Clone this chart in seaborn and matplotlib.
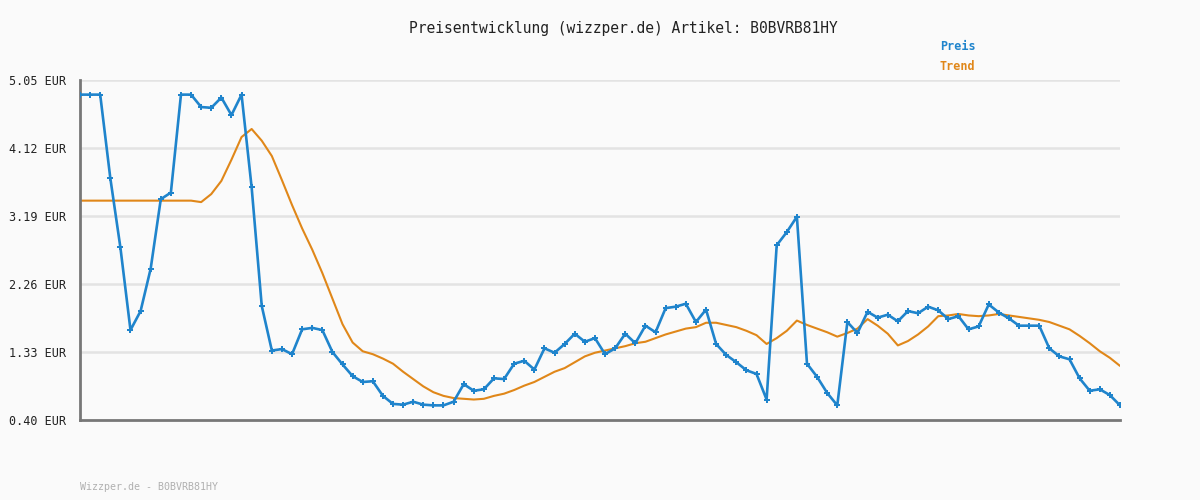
import numpy as np
import pandas as pd
import matplotlib
matplotlib.use("Agg")
import matplotlib.pyplot as plt
import seaborn as sns

# Werte (104 Messpunkte)
preis = [4.85, 4.85, 4.85, 3.71, 2.76, 1.63, 1.89, 2.47, 3.42, 3.51,
         4.85, 4.85, 4.68, 4.67, 4.81, 4.57, 4.85, 3.58, 1.96, 1.35,
         1.37, 1.30, 1.64, 1.66, 1.63, 1.33, 1.16, 1.00, 0.92, 0.93,
         0.73, 0.62, 0.61, 0.65, 0.61, 0.60, 0.60, 0.65, 0.89, 0.80,
         0.82, 0.97, 0.96, 1.17, 1.21, 1.09, 1.38, 1.32, 1.44, 1.58,
         1.47, 1.52, 1.30, 1.38, 1.58, 1.45, 1.69, 1.60, 1.93, 1.95,
         1.99, 1.74, 1.91, 1.44, 1.29, 1.19, 1.08, 1.03, 0.68, 2.79,
         2.97, 3.18, 1.17, 0.99, 0.77, 0.60, 1.74, 1.59, 1.88, 1.80,
         1.84, 1.75, 1.89, 1.86, 1.95, 1.90, 1.78, 1.82, 1.64, 1.68,
         1.98, 1.87, 1.79, 1.69, 1.69, 1.69, 1.38, 1.27, 1.23, 0.97,
         0.80, 0.82, 0.74, 0.60]

trend = [3.40, 3.40, 3.40, 3.40, 3.40, 3.40, 3.40, 3.40, 3.40, 3.40,
         3.40, 3.40, 3.38, 3.49, 3.67, 3.96, 4.27, 4.38, 4.22, 4.01,
         3.68, 3.34, 3.02, 2.73, 2.41, 2.06, 1.71, 1.46, 1.34, 1.30,
         1.24, 1.17, 1.06, 0.96, 0.86, 0.78, 0.73, 0.70, 0.69, 0.68,
         0.69, 0.73, 0.76, 0.81, 0.87, 0.92, 0.99, 1.06, 1.11, 1.19,
         1.27, 1.32, 1.35, 1.38, 1.41, 1.45, 1.47, 1.52, 1.57, 1.61,
         1.65, 1.67, 1.73, 1.73, 1.70, 1.67, 1.62, 1.56, 1.44, 1.52,
         1.62, 1.76, 1.70, 1.65, 1.60, 1.54, 1.59, 1.65, 1.78, 1.69,
         1.58, 1.42, 1.48, 1.57, 1.68, 1.82, 1.83, 1.85, 1.83, 1.82,
         1.83, 1.85, 1.83, 1.81, 1.79, 1.77, 1.74, 1.69, 1.64, 1.55,
         1.45, 1.34, 1.25, 1.14]

y_ticks = [0.40, 1.33, 2.26, 3.19, 4.12, 5.05]
titel = "Preisentwicklung (wizzper.de) Artikel: B0BVRB81HY"
fusszeile = "Wizzper.de - B0BVRB81HY"

blau = "#1f84cc"
orange = "#e08719"
hintergrund = "#fafafa"

df = pd.DataFrame({"idx": np.arange(len(preis)), "preis": preis, "trend": trend})

sns.set_style("white")
plt.rcParams["font.family"] = ["DejaVu Sans Mono"]

fig = plt.figure(figsize=(12, 5), dpi=100, facecolor=hintergrund)
ax = fig.add_axes([80 / 1200, 80 / 500, 1040 / 1200, 340 / 500])
ax.set_facecolor(hintergrund)

for t in y_ticks[1:]:
    ax.axhline(t, color="#e3e3e3", lw=1.8, zorder=0)

sns.lineplot(data=df, x="idx", y="trend", color=orange, lw=1.5, ax=ax, zorder=2)
sns.lineplot(data=df, x="idx", y="preis", color=blau, lw=1.9, marker="P",
             markersize=4, markeredgewidth=0, ax=ax, zorder=3)

ax.set_xlim(0, len(preis) - 1)
ax.set_ylim(y_ticks[0], y_ticks[-1])
ax.set_xticks([])
ax.set_yticks(y_ticks)
ax.set_yticklabels([f"{t:.2f} EUR" for t in y_ticks], fontsize=8.5, color="#222222")
ax.tick_params(axis="y", length=0, pad=10)
ax.set_xlabel("")
ax.set_ylabel("")

sns.despine(ax=ax, top=True, right=True)
ax.spines["left"].set_color("#777777")
ax.spines["left"].set_linewidth(2)
ax.spines["bottom"].set_color("#777777")
ax.spines["bottom"].set_linewidth(2)
ax.spines["left"].set_bounds(y_ticks[0], y_ticks[-1])

fig.text(623 / 1200, 1 - 28 / 500, titel, ha="center", va="center",
         fontsize=10.5, color="#222222")
fig.text(940 / 1200, 1 - 47 / 500, "Preis", ha="left", va="center",
         fontsize=8.5, color=blau, fontweight="bold")
fig.text(940 / 1200, 1 - 67 / 500, "Trend", ha="left", va="center",
         fontsize=8.5, color=orange, fontweight="bold")
fig.text(80 / 1200, 1 - 487 / 500, fusszeile, ha="left", va="center",
         fontsize=7.2, color="#b0b0b0")

fig.savefig("out.png", dpi=100, facecolor=hintergrund)
